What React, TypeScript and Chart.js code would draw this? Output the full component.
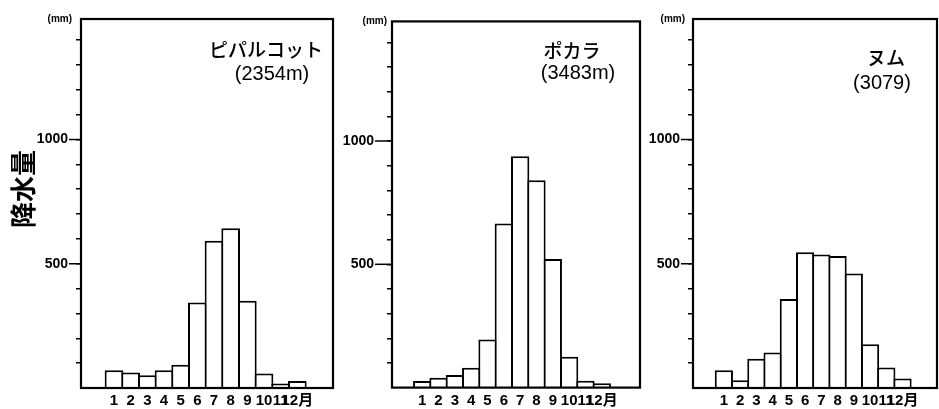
import React, { useEffect, useRef } from "react";
import { Chart, registerables } from "chart.js";

Chart.register(...registerables);

// ---- data ----
const months = [1, 2, 3, 4, 5, 6, 7, 8, 9, 10, 11, 12];
const monthTickLabels = ["1", "2", "3", "4", "5", "6", "7", "8", "9", "10", "11", "12月"];
const pipalkotRain = [71, 62, 51, 71, 94, 344, 593, 643, 351, 58, 18, 28];
const pokharaRain = [27, 40, 51, 81, 195, 665, 938, 841, 522, 125, 28, 18];
const numRain = [71, 31, 118, 143, 358, 546, 537, 531, 461, 176, 82, 38];
const stationNames = ["ピパルコット", "ポカラ", "ヌム"];
const stationHeights = ["(2354m)", "(3483m)", "(3079)"];
const yTickValues = [100, 200, 300, 400, 500, 600, 700, 800, 900, 1000, 1100, 1200, 1300, 1400];
const yLabeledValues = [500, 1000];
const yAxisTitle = "降水量";
const unitText = "(mm)";
const yMax = 1485;

// ---- layout / style per panel ----
const PANELS = [
  { values: pipalkotRain, idx: 0, left: 0, width: 336, axisW: 81, padR: 3, xMin: -0.98, xMax: 14.14, labelPad: 8, unitGap: 9, nameX: 266, nameY: 50, subX: 272, subY: 74, showTitle: true },
  { values: pokharaRain, idx: 1, left: 336, width: 306, axisW: 56, padR: 2, xMin: -0.85, xMax: 14.34, labelPad: 13, unitGap: 5, nameX: 236, nameY: 51, subX: 242, subY: 73, showTitle: false },
  { values: numRain, idx: 2, left: 642, width: 297, axisW: 51, padR: 2, xMin: -0.9, xMax: 14.12, labelPad: 8, unitGap: 8, nameX: 244, nameY: 58, subX: 240, subY: 83, showTitle: false },
];

const NUM_FONT = "'Liberation Sans', 'DejaVu Sans', sans-serif";
const CJK_FONT = "'Noto Sans CJK JP', 'Noto Sans CJK SC', sans-serif";

const framePlugin = {
  id: "frame",
  afterDatasetsDraw(chart: any) {
    const { ctx, chartArea } = chart;
    const { left, top, right, bottom } = chartArea;
    ctx.save();
    ctx.strokeStyle = "#000";
    ctx.lineWidth = 2.2;
    ctx.strokeRect(left, top, right - left, bottom - top);
    ctx.restore();
  },
};

function Panel({ cfg }: { cfg: any }) {
  const ref = useRef<HTMLCanvasElement>(null);
  useEffect(() => {
    const textPlugin = {
      id: "texts",
      afterDraw(chart: any) {
        const { ctx, chartArea } = chart;
        const yScale = chart.scales.y;
        ctx.save();
        ctx.fillStyle = "#000";
        ctx.strokeStyle = "#000";
        // station name and height
        ctx.textAlign = "center";
        ctx.textBaseline = "middle";
        ctx.font = `500 19px ${CJK_FONT}`;
        ctx.fillText(stationNames[cfg.idx], cfg.nameX, cfg.nameY);
        ctx.font = `20px ${NUM_FONT}`;
        ctx.fillText(stationHeights[cfg.idx], cfg.subX, cfg.subY);
        // unit at top of axis
        ctx.textAlign = "right";
        ctx.font = `bold 10px ${NUM_FONT}`;
        ctx.fillText(unitText, chartArea.left - cfg.unitGap, chartArea.top);
        // longer dashes at labelled ticks
        ctx.lineWidth = 1.5;
        yLabeledValues.forEach((v) => {
          const y = yScale.getPixelForValue(v);
          ctx.beginPath();
          ctx.moveTo(chartArea.left - cfg.labelPad - 4, y);
          ctx.lineTo(chartArea.left, y);
          ctx.stroke();
        });
        // axis title
        if (cfg.showTitle) {
          ctx.translate(23, 189);
          ctx.rotate(-Math.PI / 2);
          ctx.textAlign = "center";
          ctx.textBaseline = "middle";
          ctx.font = `bold 26px ${CJK_FONT}`;
          ctx.fillText(yAxisTitle, 0, 0);
        }
        ctx.restore();
      },
    };

    const chart = new Chart(ref.current as HTMLCanvasElement, {
      type: "bar",
      data: {
        datasets: [
          {
            data: months.map((m, i) => ({ x: m, y: cfg.values[i] })),
            backgroundColor: "#fff",
            borderColor: "#000",
            borderWidth: 2,
            borderSkipped: "bottom",
            barPercentage: 1.12,
            categoryPercentage: 1,
          } as any,
        ],
      },
      options: {
        animation: false,
        responsive: false,
        devicePixelRatio: 1,
        layout: { padding: { top: 19, right: cfg.padR, left: 0, bottom: 0 } },
        plugins: { legend: { display: false }, tooltip: { enabled: false } },
        scales: {
          x: {
            type: "linear",
            min: cfg.xMin,
            max: cfg.xMax,
            offset: false,
            bounds: "data",
            grid: { display: false, drawTicks: false, offset: false },
            border: { display: false },
            afterBuildTicks: (s: any) => {
              s.ticks = months.map((v) => ({ value: v }));
            },
            afterFit: (s: any) => {
              s.height = 21;
            },
            ticks: {
              autoSkip: false,
              maxRotation: 0,
              minRotation: 0,
              padding: 4,
              color: "#000",
              font: { family: `${NUM_FONT}, ${CJK_FONT}`, size: 15, weight: "bold" },
              callback: (v: any) => {
                const i = months.indexOf(Number(v));
                return i >= 0 ? monthTickLabels[i] : "";
              },
            },
          },
          y: {
            min: 0,
            max: yMax,
            grid: { display: true, drawOnChartArea: false, drawTicks: true, tickLength: 5, color: "#000", lineWidth: 1.5 },
            border: { display: false },
            afterBuildTicks: (s: any) => {
              s.ticks = yTickValues.map((v) => ({ value: v }));
            },
            afterFit: (s: any) => {
              s.width = cfg.axisW;
            },
            ticks: {
              padding: cfg.labelPad,
              color: "#000",
              autoSkip: false,
              font: { family: NUM_FONT, size: 14, weight: "bold" },
              callback: (v: any) => (yLabeledValues.includes(Number(v)) ? String(v) : ""),
            },
          },
        },
      } as any,
      plugins: [framePlugin, textPlugin],
    });
    return () => chart.destroy();
  }, []);
  return (
    <canvas
      ref={ref}
      width={cfg.width}
      height={409}
      style={{ position: "absolute", left: cfg.left, top: 0, width: cfg.width, height: 409 }}
    />
  );
}

export default function App() {
  return (
    <div style={{ position: "fixed", left: 0, top: 0, width: 939, height: 409, background: "#fff", overflow: "hidden" }}>
      {PANELS.map((p) => (
        <Panel key={p.idx} cfg={p} />
      ))}
    </div>
  );
}
